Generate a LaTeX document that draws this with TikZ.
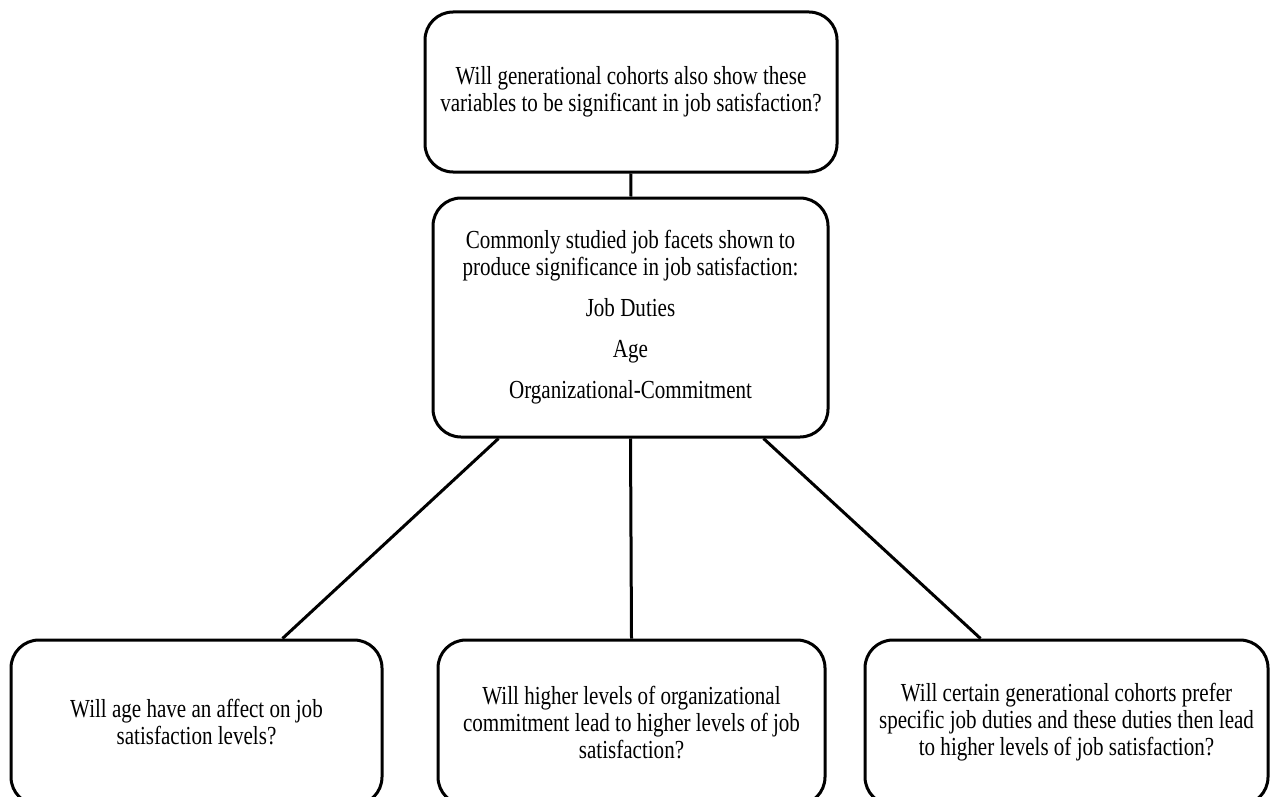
\documentclass[tikz,border=0pt]{standalone}
\usepackage{fontspec}
\setmainfont[FakeStretch=0.81]{Liberation Serif}
\usepackage{tikz}

\tikzset{
  qbox/.style={draw, line width=3pt, rounded corners=28pt, inner sep=0pt,
    align=center, font=\fontsize{26}{27}\selectfont},
  link/.style={line width=3pt}
}

\begin{document}
\begin{tikzpicture}[x=1pt,y=-1pt]
			\path[use as bounding box, clip] (0,0) rectangle (1276,797);

			\node[qbox, minimum width=412pt, minimum height=160pt] (top) at (631,92)
				{Will generational cohorts also show these\\variables to be significant in job satisfaction?};
			\node[qbox, minimum width=395pt, minimum height=239pt] (facets) at (630.5,317.5)
				{Commonly studied job facets shown to\\produce significance in job satisfaction:\\[14pt]
				 Job Duties\\[14pt] Age\\[14pt] Organizational-Commitment};

			% lower row, cut off at the bottom
			\node[qbox, minimum width=371pt, minimum height=165pt] (age) at (196.5,722.5)
				{Will age have an affect on job\\satisfaction levels?};
			\node[qbox, minimum width=387pt, minimum height=165pt] (commit) at (631.5,722.5)
				{Will higher levels of organizational\\commitment lead to higher levels of job\\satisfaction?};
			\node[qbox, minimum width=403pt, minimum height=165pt] (duties) at (1066.5,722.5)
				{Will certain generational cohorts prefer\\specific job duties and these duties then lead\\to higher levels of job satisfaction?};

			\draw[link] (top) -- (facets);
			\draw[link] ([xshift=67pt]facets.south west) -- ([xshift=86pt]age.north);
			\draw[link] (facets.south) -- (commit.north);
			\draw[link] ([xshift=-66pt]facets.south east) -- ([xshift=-86pt]duties.north);
\end{tikzpicture}
\end{document}
